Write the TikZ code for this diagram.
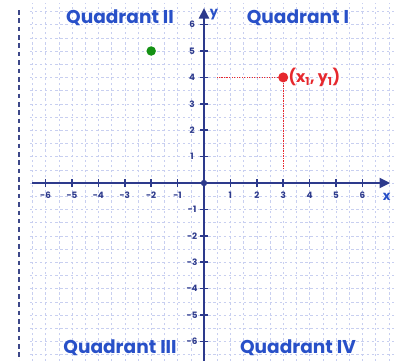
\documentclass[tikz,border=0pt]{standalone}
\usepackage{fontspec}
\setmainfont{Poppins}
\usetikzlibrary{arrows.meta}
\definecolor{qblue}{RGB}{40,80,200}
\definecolor{axisnavy}{RGB}{45,58,140}
\definecolor{gridblue}{RGB}{200,207,240}
\definecolor{ptred}{RGB}{230,40,45}
\definecolor{ptgreen}{RGB}{20,145,20}
\tikzset{
  quad/.style={font=\fontsize{20}{22}\selectfont\bfseries, text=qblue, inner sep=0pt},
  ticklab/.style={font=\fontsize{9.5}{10}\selectfont\bfseries, text=axisnavy, inner sep=0pt},
  axislab/.style={font=\fontsize{14}{16}\selectfont\bfseries, text=qblue, inner sep=0pt},
  axisline/.style={draw=axisnavy, line width=2pt, -{Triangle[length=0.4cm,width=0.38cm]}},
  tickmark/.style={draw=axisnavy, line width=1.6pt},
  gridline/.style={draw=gridblue, line width=0.55pt, dash pattern=on 2.5pt off 3pt},
  ptdot/.style={circle, inner sep=0pt, minimum size=#1},
  guide/.style={draw=ptred, line width=1.3pt, dash pattern=on 1.5pt off 1.2pt},
}
\begin{document}
\begin{tikzpicture}
\useasboundingbox (-7.727,-6.742) rectangle (7.311,6.932);
% grid
\foreach \i in {-13,...,14} {
  \draw[gridline] (\i*0.5,-6.742) -- (\i*0.5,6.8);
}
\foreach \j in {-13,...,13} {
  \draw[gridline] (-6.6,\j*0.5) -- (7.3,\j*0.5);
}
% left dashed line
\draw[draw=axisnavy!80!gray, line width=1.8pt, dash pattern=on 5pt off 4pt] (-7.0,6.55) -- (-7.0,-6.742);
% axes
\coordinate (xl) at (-6.5,0);
\coordinate (xr) at (7.05,0);
\coordinate (yb) at (0,-6.742);
\coordinate (yt) at (0,6.63);
\draw[axisline] (xl) -- (xr);
\draw[axisline] (yb) -- (yt);
\foreach \k in {-6,...,-1,1,2,...,6} {
  \draw[tickmark] (\k,-0.16) -- (\k,0.16);
  \draw[tickmark] (-0.16,\k) -- (0.16,\k);
  \node[ticklab] (tx\k) at (\k,-0.48) {\k};
  \node[ticklab] (ty\k) at (-0.45,\k) {\k};
}
\node[ptdot=0.24cm, fill=axisnavy] (o) at (0,0) {};
\node[axislab, anchor=base west] (ylab) at (0.22,6.3) {y};
\node[axislab] (xlab) at (6.92,-0.52) {x};
% quadrant labels
\node[quad] (q2) at (-3.18,6.25) {Quadrant II};
\node[quad] (q1) at (3.56,6.25) {Quadrant I};
\node[quad] (q3) at (-3.18,-6.25) {Quadrant III};
\node[quad] (q4) at (3.56,-6.25) {Quadrant IV};
% points
\coordinate (g1) at (0.5,4);
\coordinate (g2) at (3,0.55);
\node[ptdot=0.38cm, fill=ptred] (p) at (3,4) {};
\draw[guide] (p) -- (g1);
\draw[guide] (p) -- (g2);
\node[ptdot=0.36cm, fill=ptgreen] (g) at (-2,5) {};
\node[anchor=west, inner sep=0pt, text=ptred, font=\fontsize{17}{19}\selectfont\bfseries] (plab) at (3.2,4) {(x\textsubscript{1}, y\textsubscript{1})};
\end{tikzpicture}
\end{document}
